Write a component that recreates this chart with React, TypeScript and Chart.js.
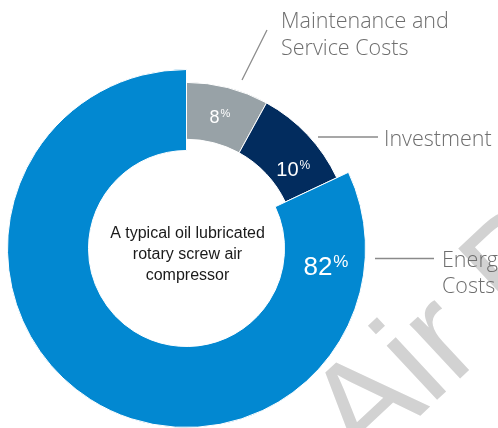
import React, { useEffect, useRef } from "react";
import { Chart, registerables } from "chart.js";

Chart.register(...registerables);

const categories = ["Maintenance and Service Costs", "Investment", "Energy Costs"];
const shares = [8, 10, 82];
const centerLines = ["A typical oil lubricated", "rotary screw air", "compressor"];
const watermarkText = "Air Best Practices";

const sliceColors = ["#98a2a7", "#022c5e", "#0288d1"];
// label placement (polar, relative to chart centre): angle from top in degrees, radius px
const pctPlacement = [
  { angle: 14, r: 136, size: 18, psize: 11 },
  { angle: 53, r: 133, size: 20, psize: 12 },
  { angle: 97, r: 140, size: 26, psize: 17 },
];

const LIGHT = "300 21.5px 'Open Sans', 'DejaVu Sans', sans-serif";

const labelsPlugin = {
  id: "customLabels",
  afterDatasetsUpdate(chart: any) {
    const meta = chart.getDatasetMeta(0);
    const R = meta.data[2].outerRadius;
    [0, 1].forEach((i) => {
      const a = meta.data[i];
      a.outerRadius = R * 0.928;
      a.innerRadius = R * 0.61;
    });
  },
  beforeDatasetsDraw(chart: any) {
    const ctx = chart.ctx;
    ctx.save();
    ctx.translate(362, 470);
    ctx.rotate((-43 * Math.PI) / 180);
    ctx.font = "140px 'Liberation Sans', Arial, sans-serif";
    ctx.fillStyle = "#d2d2d2";
    ctx.textBaseline = "alphabetic";
    ctx.textAlign = "left";
    ctx.fillText(watermarkText, 0, 0);
    ctx.restore();
  },
  afterDatasetsDraw(chart: any) {
    const ctx = chart.ctx;
    const meta = chart.getDatasetMeta(0);
    const cx = meta.data[2].x;
    const cy = meta.data[2].y;
    ctx.save();
    // percent labels
    shares.forEach((v, i) => {
      const p = pctPlacement[i];
      const ang = (p.angle * Math.PI) / 180;
      const x = cx + p.r * Math.sin(ang);
      const y = cy - p.r * Math.cos(ang);
      const num = String(v);
      ctx.fillStyle = "#ffffff";
      ctx.textAlign = "left";
      ctx.textBaseline = "alphabetic";
      ctx.font = `${p.size}px 'Liberation Sans', Arial, sans-serif`;
      const w1 = ctx.measureText(num).width;
      ctx.font = `${p.psize}px 'Liberation Sans', Arial, sans-serif`;
      const w2 = ctx.measureText("%").width;
      const sx = x - (w1 + w2) / 2;
      const cap = p.size * 0.716;
      const base = y + cap / 2;
      ctx.font = `${p.size}px 'Liberation Sans', Arial, sans-serif`;
      ctx.fillText(num, sx, base);
      ctx.font = `${p.psize}px 'Liberation Sans', Arial, sans-serif`;
      ctx.fillText("%", sx + w1 + 1, base - cap + p.psize * 0.716 - 1);
    });
    // centre text
    ctx.fillStyle = "#1a1a1a";
    ctx.font = "16px 'Liberation Sans', Arial, sans-serif";
    ctx.textAlign = "center";
    centerLines.forEach((t, i) => ctx.fillText(t, cx + 1, 238 + i * 21));
    // outer labels with leader lines
    ctx.strokeStyle = "#8a8a8a";
    ctx.lineWidth = 1.3;
    const lines = [
      [242, 80, 267, 30],
      [318, 137, 378, 137],
      [375, 258.5, 434, 258.5],
    ];
    lines.forEach(([x1, y1, x2, y2]) => {
      ctx.beginPath();
      ctx.moveTo(x1, y1);
      ctx.lineTo(x2, y2);
      ctx.stroke();
    });
    ctx.fillStyle = "#6e6e6e";
    ctx.font = LIGHT;
    ctx.textAlign = "left";
    ctx.fillText("Maintenance and", 281, 28);
    ctx.fillText("Service Costs", 281, 55);
    ctx.fillText(categories[1], 384, 146);
    ctx.fillText("Energy", 442, 267);
    ctx.fillText("Costs", 442, 293);
    ctx.restore();
  },
};

export default function App() {
  const ref = useRef<HTMLCanvasElement>(null);
  useEffect(() => {
    if (!ref.current) return;
    const chart = new Chart(ref.current, {
      type: "doughnut",
      data: {
        labels: categories,
        datasets: [
          {
            data: shares,
            backgroundColor: sliceColors,
            borderColor: "#ffffff",
            borderWidth: 1,
            hoverOffset: 0,
          },
        ],
      },
      options: {
        responsive: false,
        animation: false,
        cutout: 98,
        layout: { padding: { left: 7, top: 69, right: 132, bottom: 0 } },
        plugins: { legend: { display: false }, tooltip: { enabled: false } },
      },
      plugins: [labelsPlugin],
    });
    return () => chart.destroy();
  }, []);
  return (
    <div style={{ position: "fixed", left: 0, top: 0, width: 498, height: 428, background: "#fff" }}>
      <canvas ref={ref} width={498} height={428} style={{ width: 498, height: 428 }} />
    </div>
  );
}
